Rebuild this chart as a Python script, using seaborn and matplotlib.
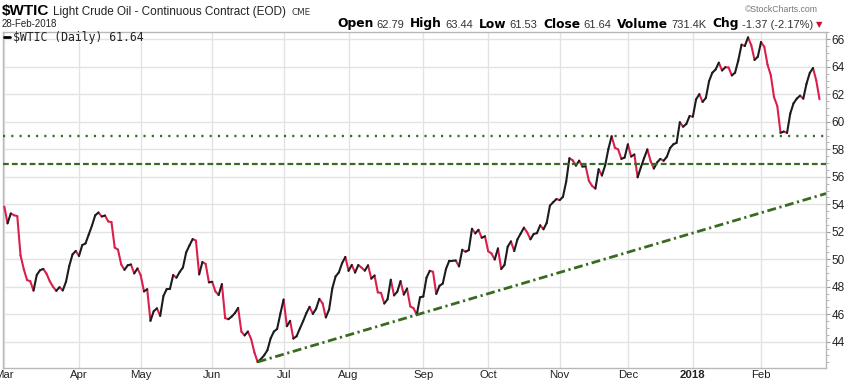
import numpy as np
import pandas as pd
import matplotlib
matplotlib.use('Agg')
import matplotlib.pyplot as plt
from matplotlib.lines import Line2D
import seaborn as sns

# daily closes of $WTIC, one list per month (Mar 2017 .. Feb 2018)
close_mar = [53.83, 52.61, 53.33, 53.20, 53.14, 50.28, 49.28, 48.49, 48.40, 47.72, 48.86, 49.20,
             49.30, 48.95, 48.40, 48.00, 47.70, 47.97, 47.73, 48.37, 49.51, 50.35, 50.60]
close_apr = [50.24, 51.03, 51.15, 51.80, 52.45, 53.20, 53.40, 53.11, 53.18, 52.75, 52.70, 50.85,
             50.70, 49.62, 49.23, 49.56, 49.62, 48.97, 49.33]
close_may = [48.84, 47.66, 47.82, 45.52, 46.22, 46.43, 45.88, 47.33, 47.83, 47.84, 48.85, 48.66,
             49.07, 49.40, 50.50, 51.00, 51.47, 51.36, 48.90, 49.80, 49.66, 48.32]
close_jun = [48.36, 47.66, 47.40, 48.19, 45.72, 45.64, 45.83, 46.08, 46.46, 44.73, 44.46, 44.74,
             44.20, 43.23, 42.53, 42.74, 43.01, 43.38, 44.24, 44.74, 44.93, 46.04]
close_jul = [47.07, 45.13, 45.52, 44.23, 44.40, 44.96, 45.49, 46.08, 46.54, 46.02, 46.40, 47.12,
             46.79, 45.77, 46.34, 47.89, 48.75, 49.04, 49.71, 50.17]
close_aug = [49.16, 49.59, 49.03, 49.58, 49.39, 49.17, 49.56, 48.59, 48.82, 47.59, 47.55, 46.78,
             47.09, 48.51, 47.37, 47.64, 48.41, 47.43, 47.87, 46.57, 46.44, 45.96, 47.23]
close_sep = [47.29, 48.66, 49.16, 49.09, 47.48, 48.07, 48.23, 49.30, 49.89, 49.89, 49.91, 49.48,
             50.69, 50.55, 50.66, 52.22, 51.88, 52.14, 51.56, 51.67]
close_oct = [50.58, 50.42, 49.98, 50.79, 49.29, 49.58, 50.92, 51.30, 50.60, 51.45, 51.87, 52.30,
             51.95, 51.45, 51.84, 51.90, 52.47, 52.18, 52.64, 53.90, 54.15, 54.38]
close_nov = [54.30, 54.54, 55.64, 57.35, 57.20, 56.81, 57.17, 56.74, 56.76, 55.70, 55.33, 55.14,
             56.55, 56.09, 56.83, 58.02, 58.95, 58.11, 57.99, 57.30, 57.40]
close_dec = [58.36, 57.47, 57.62, 55.96, 56.69, 57.36, 57.99, 57.14, 56.60, 57.04, 57.30, 57.16,
             57.46, 58.09, 58.36, 58.47, 59.97, 59.64, 59.84, 60.42]
close_jan = [60.37, 61.63, 62.01, 61.44, 61.73, 62.96, 63.57, 63.80, 64.30, 63.73, 63.97, 63.95,
             63.37, 63.57, 64.47, 65.61, 65.51, 66.14, 65.56, 64.50, 64.73]
close_feb = [65.80, 65.45, 64.15, 63.39, 61.79, 61.15, 59.20, 59.29, 59.19, 60.60, 61.34, 61.68,
             61.90, 61.68, 62.77, 63.55, 63.91, 63.01, 61.64]

holidays = ['2017-04-14', '2017-05-29', '2017-07-04', '2017-09-04', '2017-11-23',
            '2017-12-25', '2018-01-01', '2018-01-15', '2018-02-19']

# annotations drawn on the chart
resistance_dotted = 59.0
resistance_dashed = 56.95
trend_start = '2017-06-21'
trend_values = [42.53, 54.78]
trend_end_pos = 253

y_ticks = list(range(44, 67, 2))

header_parts = [('Open', True), ('62.79', False), ('High', True), ('63.44', False),
                ('Low', True), ('61.53', False), ('Close', True), ('61.64', False),
                ('Volume', True), ('731.4K', False), ('Chg', True), ('-1.37 (-2.17%)', False)]

# ---------------------------------------------------------------
closes = (close_mar + close_apr + close_may + close_jun + close_jul + close_aug +
          close_sep + close_oct + close_nov + close_dec + close_jan + close_feb)
dates = pd.bdate_range('2017-03-01', '2018-02-28', freq='C', holidays=holidays)
assert len(dates) == len(closes)

df = pd.DataFrame({'date': dates, 'close': closes})
df['pos'] = np.arange(len(df))

# one two-point segment per day, coloured by up / down close
prev = df.iloc[:-1].reset_index(drop=True)
nxt = df.iloc[1:].reset_index(drop=True)
direction = np.where(nxt['close'] < prev['close'], 'down', 'up')
seg_id = np.arange(len(prev))
segs = pd.concat([prev.assign(seg=seg_id, dir=direction),
                  nxt.assign(seg=seg_id, dir=direction)], ignore_index=True)

sns.set_theme(style='white')
plt.rcParams['font.family'] = ['Liberation Sans', 'DejaVu Sans']

W, H = 844, 382
fig = plt.figure(figsize=(W / 100, H / 100), dpi=100)
ax = fig.add_axes([3 / W, 1 - 368 / H, 823 / W, 336 / H])

sns.lineplot(data=segs, x='pos', y='close', hue='dir', units='seg', estimator=None,
             palette={'up': '#1c1c1c', 'down': '#dc1e4a'}, linewidth=1.5,
             solid_capstyle='round', legend=False, ax=ax, zorder=3)

green = '#3a6a1f'
ax.axhline(resistance_dotted, color=green, lw=1.7, ls=(0, (0.9, 2.6)), zorder=4)
ax.axhline(resistance_dashed, color=green, lw=1.6, ls=(0, (2.6, 1.4)), zorder=4)

trend_pos = [int(df.loc[df['date'] == trend_start, 'pos'].iloc[0]), trend_end_pos]
sns.lineplot(x=trend_pos, y=trend_values, color=green, linewidth=2.0,
             linestyle=(0, (3.2, 1.3, 0.8, 1.3)), ax=ax, zorder=4)

# axes, grid and ticks
month_pos = df.groupby([df['date'].dt.year, df['date'].dt.month])['pos'].min().values
month_lab = [d.strftime('%b') if d.month != 1 else str(d.year) for d in df['date'].iloc[month_pos]]

ax.set_xlim(-0.4, 253.0)
ax.set_ylim(42.09, 66.53)
ax.set_xticks(month_pos)
ax.set_xticklabels(month_lab)
ax.set_yticks(y_ticks)
ax.set_yticks(np.arange(42.5, 66.6, 0.5), minor=True)
ax.yaxis.tick_right()
ax.grid(True, which='major', color='#e3e3e3', lw=1)
ax.set_axisbelow(True)
ax.set_xlabel('')
ax.set_ylabel('')
for sp in ax.spines.values():
    sp.set_color('#b8b8b8')
    sp.set_linewidth(1)
ax.tick_params(axis='x', length=0, pad=1.8, labelsize=8.2, labelcolor='#222222')
ax.tick_params(axis='y', which='major', right=True, length=3, width=0.8, color='#999999',
               pad=1.2, labelsize=8.5, labelcolor='#222222')
ax.tick_params(axis='y', which='minor', right=True, length=2, width=0.6, color='#aaaaaa')
for lab in ax.get_xticklabels():
    if lab.get_text() == '2018':
        lab.set_fontweight('bold')

# header
def px(x, y):
    return x / W, 1 - y / H

fig.text(*px(2, 15), '$WTIC', fontsize=11, fontweight='bold', color='black', va='baseline')
fig.text(*px(53, 15), 'Light Crude Oil - Continuous Contract (EOD)', fontsize=8.5,
         color='#222222', va='baseline')
fig.text(*px(292, 15), 'CME', fontsize=6.3, family='DejaVu Sans', color='#333333', va='baseline')
fig.text(*px(2, 27), '28-Feb-2018', fontsize=7, color='#222222', va='baseline')
fig.text(*px(818, 11.5), '\u00a9StockCharts.com', fontsize=6.3, color='#777777',
         ha='right', va='baseline')

renderer = fig.canvas.get_renderer()
x = 337
for txt, bold in header_parts:
    if bold:
        t = fig.text(*px(x, 27.5), txt, fontsize=8.8, family='DejaVu Sans', fontweight='bold',
                     color='black', va='baseline')
    else:
        t = fig.text(*px(x, 27.5), txt, fontsize=8.0, color='#333333', va='baseline')
    bb = t.get_window_extent(renderer)
    x = bb.x1 + (3 if bold else 6)
fig.text(*px(x - 3, 27), '\u25bc', fontsize=6, family='DejaVu Sans', color='#c8102e',
         va='baseline')

# legend row
fig.add_artist(Line2D([4 / W, 10 / W], [1 - 37 / H, 1 - 37 / H], color='black', lw=2))
fig.text(*px(13, 37), '$WTIC (Daily) 61.64', fontsize=8.3, family='DejaVu Sans Mono',
         color='#222222', va='center')

fig.savefig('out.png', dpi=100, facecolor='white')
